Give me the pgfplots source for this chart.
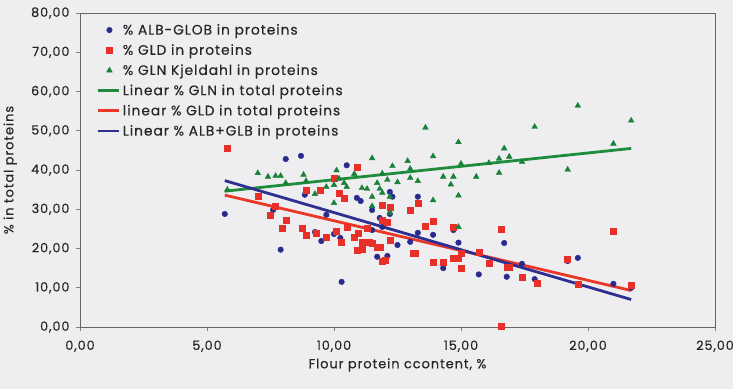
\documentclass[border=0pt]{standalone}
\usepackage{pgfplots}
\pgfplotsset{compat=1.18}
\usepackage{fontspec}
\setmainfont{Poppins}[LetterSpace=7, FakeBold=0.3]
\definecolor{bg}{RGB}{238,238,240}
\definecolor{cblue}{RGB}{40,42,140}
\definecolor{cred}{RGB}{232,48,40}
\definecolor{cgreen}{RGB}{24,130,56}
\definecolor{lgreen}{RGB}{30,140,60}
\definecolor{lred}{RGB}{235,55,40}
\definecolor{lblue}{RGB}{45,48,145}
\pgfplotsset{
  marklegend/.style={legend image code/.code={\draw[##1] plot coordinates {(11pt,0pt)};}},
  linelegend/.style={legend image code/.code={\draw[##1] (0pt,0pt) -- (21pt,0pt);}},
}
\begin{document}
\begin{tikzpicture}[x=1pt,y=1pt]
\fill[bg] (-80,-62) rectangle (653,327);
\useasboundingbox (-80,-62) rectangle (653,327);
\begin{axis}[
  at={(0,0)}, anchor=south west,
  width=635pt, height=314pt, scale only axis,
  xmin=0, xmax=25, ymin=0, ymax=80,
  xtick={0,5,...,25}, ytick={0,10,...,80},
  /pgf/number format/assume math mode=true,
  /pgf/number format/.cd, fixed, fixed zerofill, precision=2, use comma, 1000 sep={},
  /pgfplots/.cd,
  tick label style={font=\fontsize{12.8}{14}\selectfont, text=black!85},
  tick align=outside, major tick length=4pt,
  tick style={gray, line width=0.8pt},
  axis line style={gray!80!black, line width=0.8pt},
  xtick pos=bottom, ytick pos=left,
  xticklabel style={yshift=-6pt},
  yticklabel style={xshift=-3pt},
  xlabel={Flour protein ccontent, \%},
  ylabel={\% in total proteins},
  label style={font=\fontsize{13}{14}\selectfont, text=black!85},
  xlabel style={at={(axis description cs:0.5,-0.121)}, anchor=center},
  ylabel style={at={(axis description cs:-0.110,0.5)}, anchor=center, rotate=0},
  axis background/.style={fill=bg},
  legend cell align=left,
  legend style={at={(0.025,0.975)}, anchor=north west, draw=none, fill=none,
    font=\fontsize{13.8}{15}\selectfont, row sep=4.2pt, text=black!85,
    inner sep=1pt},
]
% ALB-GLOB
\addplot[only marks, mark=*, mark size=2.8pt, color=cblue, marklegend] coordinates {
(5.7,28.8) (7.6,29.8) (7.9,19.7) (8.1,42.8) (8.7,43.6) (8.85,33.7) (9.25,24.2)
(9.5,21.9) (9.7,28.6) (10.0,23.7) (10.25,22.7) (10.3,11.5) (10.5,41.2) (10.8,22.7)
(10.9,32.9) (11.05,32.1) (11.1,21.2) (11.5,29.8) (11.5,24.7) (11.7,17.9) (11.8,27.8)
(11.9,25.5) (12.1,18.1) (12.2,34.4) (12.2,28.8) (12.3,33.2) (12.5,20.9) (13.0,21.7)
(13.3,33.2) (13.3,24.0) (13.9,23.5) (14.3,15.0) (14.7,24.7) (14.9,21.5) (15.7,13.4)
(16.7,21.4) (16.8,12.8) (17.4,16.1) (17.9,12.2) (19.2,16.8) (19.6,17.6) (21.0,11.0)
(21.7,10.0)
};
\addlegendentry{\% ALB-GLOB in proteins}
% GLD
\addplot[only marks, mark=square*, mark size=3pt, color=cred, marklegend] coordinates {
(5.8,45.6) (7.0,33.4) (7.5,28.6) (7.7,30.7) (8.1,27.2) (7.95,25.3) (8.75,25.3)
(8.9,23.5) (8.9,34.9) (9.3,24.0) (9.45,34.8) (9.7,23.0) (10.0,38.0) (10.1,24.5)
(10.2,34.2) (10.3,21.6) (10.4,32.7) (10.5,25.5) (10.8,23.0) (10.9,40.7) (10.95,24.0)
(10.9,19.6) (11.1,21.7) (11.1,19.8) (11.3,25.3) (11.4,21.6) (11.5,21.4) (11.7,20.3)
(11.8,20.4) (11.9,16.8) (11.9,31.0) (11.9,27.3) (12.0,17.1) (12.1,26.8) (12.2,30.4)
(12.2,22.2) (13.0,29.8) (13.1,18.9) (13.2,18.9) (13.3,31.5) (13.6,25.8) (13.9,26.9)
(13.9,16.6) (14.3,16.6) (14.7,25.4) (14.7,17.6) (14.9,17.6) (15.0,18.9) (15.0,14.9)
(15.7,19.1) (16.1,16.3) (16.6,25.0) (16.6,0.2) (16.8,15.3) (16.9,15.3) (17.4,12.8)
(18.0,11.2) (19.2,17.3) (19.6,11.0) (21.0,24.5) (21.7,10.7)
};
\addlegendentry{\% GLD in proteins}
% GLN
\addplot[only marks, mark=triangle*, mark size=3.3pt, color=cgreen, marklegend] coordinates {
(5.8,35.0) (7.0,39.2) (7.4,38.3) (7.7,38.5) (7.9,38.5) (8.1,36.7) (8.8,38.8)
(8.9,37.2) (9.25,33.9) (9.7,35.7) (10.0,36.2) (10.1,39.9) (10.0,31.6) (10.2,37.8)
(10.4,36.7) (10.5,35.7) (10.8,39.0) (11.1,35.4) (11.3,35.2) (11.5,43.0) (11.5,33.2)
(11.5,30.8) (11.7,36.7) (11.8,35.2) (11.9,39.1) (11.9,34.2) (12.1,37.5) (12.2,29.1)
(12.2,33.2) (12.3,41.0) (12.5,36.9) (12.9,42.3) (13.0,38.0) (13.0,40.3) (13.3,37.2)
(13.6,50.8) (13.9,43.5) (13.9,32.3) (14.3,38.3) (14.6,36.3) (14.7,38.3) (14.9,47.1)
(14.9,33.5) (14.9,25.5) (15.0,41.6) (15.6,38.3) (16.1,41.8) (16.5,42.9) (16.5,39.3)
(16.7,45.5) (16.9,43.4) (17.4,42.1) (17.9,51.0) (19.2,40.1) (19.6,56.4) (21.0,46.7)
(21.7,52.6)
};
\addlegendentry{\% GLN Kjeldahl in proteins}
% trend lines
\addplot[lgreen, line width=2.8pt, no marks, linelegend] coordinates {(5.7,34.6) (21.7,45.5)};
\addlegendentry{Linear \% GLN in total proteins}
\addplot[lred, line width=2.8pt, no marks, linelegend] coordinates {(5.7,33.6) (21.7,9.3)};
\addlegendentry{linear \% GLD in total proteins}
\addplot[lblue, line width=2.8pt, no marks, linelegend] coordinates {(5.7,37.3) (21.7,7.0)};
\addlegendentry{Linear \% ALB+GLB in proteins}
\end{axis}
\end{tikzpicture}
\end{document}
